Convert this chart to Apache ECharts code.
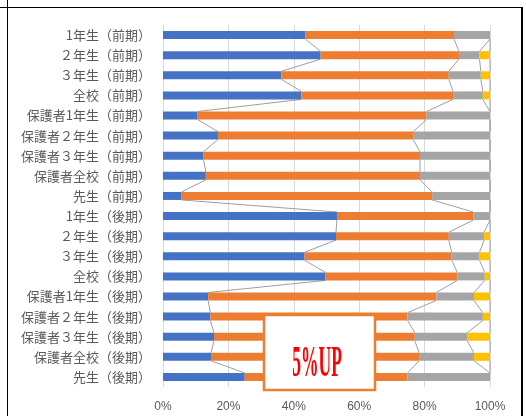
<!DOCTYPE html>
<html>
<head>
<meta charset="utf-8">
<script src="https://cdn.jsdelivr.net/npm/echarts@6/dist/echarts.min.js"></script>
<style>
  html, body { margin: 0; padding: 0; background: #fff; }
  #main { width: 526px; height: 416px; }
</style>
</head>
<body>
<div id="main"></div>
<script>
// カテゴリ（上から順）
var categories = [
    '1年生（前期）', '２年生（前期）', '３年生（前期）', '全校（前期）',
    '保護者1年生（前期）', '保護者２年生（前期）', '保護者３年生（前期）', '保護者全校（前期）',
    '先生（前期）',
    '1年生（後期）', '２年生（後期）', '３年生（後期）', '全校（後期）',
    '保護者1年生（後期）', '保護者２年生（後期）', '保護者３年生（後期）', '保護者全校（後期）',
    '先生（後期）'
];
// 各回答の割合（%）
var blueValues = [43.5, 48.2, 36.2, 42.3, 10.6, 16.8, 12.4, 13.1, 5.7, 53.2, 52.9, 43.3, 49.7, 13.8, 14.5, 15.6, 14.7, 25.0];
var orangeValues = [45.5, 42.3, 51.2, 46.4, 70.0, 59.7, 66.2, 65.5, 76.6, 41.7, 34.5, 45.0, 40.3, 69.8, 60.3, 61.4, 63.6, 49.8];
var grayValues = [11.0, 6.3, 9.8, 9.1, 19.4, 23.5, 21.4, 21.4, 17.7, 5.1, 10.8, 8.5, 8.4, 11.5, 23.0, 16.0, 16.8, 25.2];
var yellowValues = [0, 3.2, 2.8, 2.2, 0, 0, 0, 0, 0, 0, 1.8, 3.2, 1.6, 4.9, 2.2, 7.0, 4.9, 0];
var xTicks = [0, 20, 40, 60, 80, 100];

var colors = ['#4472C4', '#ED7D31', '#A5A5A5', '#FFC000'];
var BAR_H = 8;

// 区切り線（系列線）用のデータ [累計, 行, 次の行の累計]
var lineData = [];
var groups = [blueValues, orangeValues, grayValues, yellowValues];
var cum = categories.map(function(c, i) {
    var s = 0, r = [];
    groups.forEach(function(g) { s += g[i]; r.push(s); });
    return r;
});
for (var i = 0; i < categories.length - 1; i++) {
    for (var k = 0; k < groups.length; k++) {
        lineData.push([cum[i][k], i, cum[i + 1][k]]);
    }
}

function barSeries(name, data, color) {
    return {
        name: name,
        type: 'bar',
        stack: 'total',
        barWidth: BAR_H,
        itemStyle: { color: color },
        data: data,
        silent: true
    };
}

var chart = echarts.init(document.getElementById('main'));
chart.setOption({
    animation: false,
    grid: { left: 163, right: 36, top: 25, bottom: 29 },
    xAxis: {
        type: 'value',
        min: 0,
        max: 100,
        interval: 20,
        axisLine: { show: false },
        axisTick: { show: false },
        axisLabel: {
            formatter: '{value}%',
            color: '#595959',
            fontSize: 12,
            fontFamily: 'Liberation Sans',
            margin: 14
        },
        splitLine: { lineStyle: { color: '#D9D9D9', width: 1 } }
    },
    yAxis: {
        type: 'category',
        inverse: true,
        data: categories,
        axisLine: { show: false },
        axisTick: { show: false },
        axisLabel: {
            color: '#595959',
            fontSize: 13,
            fontFamily: 'Noto Sans CJK JP',
            margin: 12
        }
    },
    series: [
        barSeries('blue', blueValues, colors[0]),
        barSeries('orange', orangeValues, colors[1]),
        barSeries('gray', grayValues, colors[2]),
        barSeries('yellow', yellowValues, colors[3]),
        {
            type: 'custom',
            silent: true,
            encode: { x: 0, y: 1 },
            data: lineData,
            renderItem: function(params, api) {
                var row = api.value(1);
                var p1 = api.coord([api.value(0), row]);
                var p2 = api.coord([api.value(2), row + 1]);
                return {
                    type: 'line',
                    shape: { x1: p1[0], y1: p1[1] + BAR_H / 2, x2: p2[0], y2: p2[1] - BAR_H / 2 },
                    style: { stroke: '#9E9E9E', lineWidth: 1 }
                };
            },
            z: 1
        }
    ],
    graphic: [
        { type: 'line', shape: { x1: 0, y1: 7.5, x2: 522, y2: 7.5 }, style: { stroke: '#000', lineWidth: 1 } },
        { type: 'line', shape: { x1: 7.5, y1: 0, x2: 7.5, y2: 416 }, style: { stroke: '#000', lineWidth: 1 } },
        { type: 'line', shape: { x1: 522, y1: 7, x2: 522, y2: 416 }, style: { stroke: '#000', lineWidth: 2 } },
        {
            type: 'rect',
            z: 100,
            shape: { x: 264, y: 315, width: 111, height: 75 },
            style: { fill: '#fff', stroke: '#ED7D31', lineWidth: 2.5 }
        },
        {
            type: 'text',
            z: 101,
            x: 317,
            y: 364,
            scaleX: 0.39,
            style: {
                text: '5%UP',
                fill: '#FF0000',
                font: 'bold 45px "Liberation Serif"',
                align: 'center',
                verticalAlign: 'middle'
            }
        }
    ]
});
</script>
</body>
</html>
